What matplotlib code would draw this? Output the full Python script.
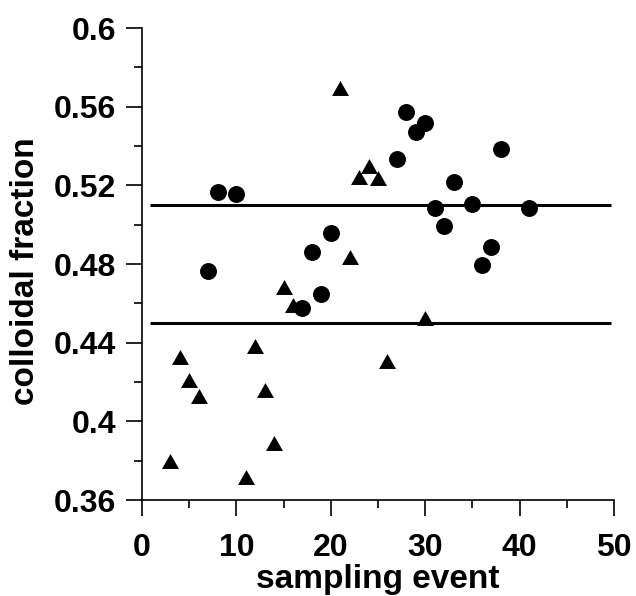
import numpy as np
import matplotlib.pyplot as plt
from matplotlib.path import Path
from matplotlib.ticker import MultipleLocator

# circles
circ_x = [7, 8, 10, 17, 18, 19, 20, 27, 28, 29, 30, 31, 32, 33, 35, 36, 37, 38, 41]
circ_y = [0.4765, 0.5165, 0.5156, 0.4578, 0.4863, 0.4648, 0.4957, 0.5334, 0.5571,
          0.5473, 0.5516, 0.5087, 0.4995, 0.5217, 0.5104, 0.4795, 0.4888, 0.5383, 0.5084]

# triangles
tri_x = [3, 4, 5, 6, 11, 12, 13, 14, 15, 16, 21, 22, 23, 24, 25, 26, 30]
tri_y = [0.3799, 0.4326, 0.4211, 0.4130, 0.3716, 0.4382, 0.4160, 0.3892, 0.4685,
         0.4592, 0.5695, 0.4838, 0.5244, 0.5299, 0.5236, 0.4309, 0.4527]

# horizontal reference levels
ref_levels = [0.51, 0.45]
ref_start, ref_end = 0.8, 49.7

yticks = [0.36, 0.4, 0.44, 0.48, 0.52, 0.56, 0.6]
ytick_labels = ['0.36', '0.4', '0.44', '0.48', '0.52', '0.56', '0.6']

plt.rcParams['font.family'] = ['Liberation Sans', 'DejaVu Sans']
plt.rcParams['font.weight'] = 'bold'

# flattened triangle (wider than tall)
tri_marker = Path([(-1, -0.88), (1, -0.88), (0, 0.88), (-1, -0.88)],
                  [Path.MOVETO, Path.LINETO, Path.LINETO, Path.CLOSEPOLY])

fig = plt.figure(figsize=(6.36, 5.96), dpi=100)
ax = fig.add_axes([0.2233, 0.161, 0.7421, 0.792])

for lvl in ref_levels:
    ax.plot([ref_start, ref_end], [lvl, lvl], color='black', lw=2.2, solid_capstyle='butt', zorder=2)

ax.plot(circ_x, circ_y, 'o', color='black', ms=12.2, mew=0, zorder=3)
ax.plot(tri_x, tri_y, marker=tri_marker, ls='none', color='black', ms=12.2, mew=0, zorder=3)

ax.set_xlim(0, 50)
ax.set_ylim(0.36, 0.6)
ax.xaxis.set_major_locator(MultipleLocator(10))
ax.xaxis.set_minor_locator(MultipleLocator(5))
ax.set_yticks(yticks)
ax.set_yticklabels(ytick_labels)
ax.yaxis.set_minor_locator(MultipleLocator(0.02))

for s in ['top', 'right']:
    ax.spines[s].set_visible(False)
for s in ['left', 'bottom']:
    ax.spines[s].set_linewidth(1.2)

ax.tick_params(which='major', direction='out', length=11.5, width=1.2, labelsize=23)
ax.tick_params(axis='y', which='major', pad=7)
ax.tick_params(axis='x', which='major', pad=12)
ax.tick_params(which='minor', direction='out', length=6, width=1.2)

ax.set_xlabel('sampling event', fontsize=24, fontweight='bold')
ax.set_ylabel('colloidal fraction', fontsize=24, fontweight='bold')
ax.xaxis.set_label_coords(0.5, -0.135)
ax.yaxis.set_label_coords(-0.215, 0.485)

fig.savefig('out.png', dpi=100)
